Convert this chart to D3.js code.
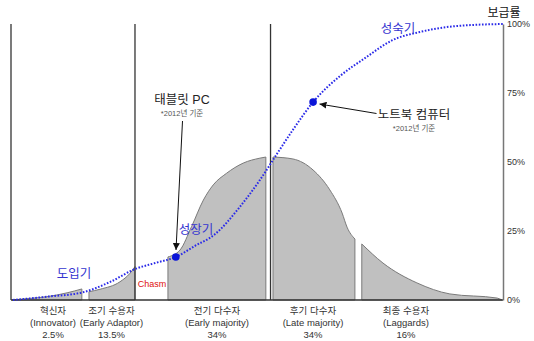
<!DOCTYPE html>
<html>
<head>
<meta charset="utf-8">
<script src="https://cdn.jsdelivr.net/npm/d3@7"></script>
<style>
  html, body { margin: 0; padding: 0; background: #fff; }
  svg { display: block; font-family: "Liberation Sans", "Noto Sans CJK KR", sans-serif; }
</style>
</head>
<body>
<svg id="chart" width="534" height="341"></svg>
<script>
// Adopter groups (Rogers' diffusion of innovations)
const stageNames = ["혁신자", "조기 수용자", "전기 다수자", "후기 다수자", "최종 수용자"];
const stageNamesEn = ["(Innovator)", "(Early Adaptor)", "(Early majority)", "(Late majority)", "(Laggards)"];
const stageShares = ["2.5%", "13.5%", "34%", "34%", "16%"];

// Bell-curve outline of each adopter group: x = time (0-100), y = relative adopters
const innovatorsX = [0.2, 4, 7.3, 11.4, 14.4];
const innovatorsY = [0, 0.6, 1.2, 2.6, 4.0];
const earlyAdoptersX = [15.85, 18.1, 22.15, 24.2, 25.2];
const earlyAdoptersY = [3.0, 3.9, 6.6, 9.7, 12.1];
const earlyMajorityX = [31.9, 34.35, 36.7, 39.1, 41.1, 43.8, 47.2, 50.6, 51.8];
const earlyMajorityY = [15.6, 18.1, 26.6, 36.2, 41.7, 45.9, 49.6, 51.4, 51.8];
const lateMajorityX = [53.25, 57.3, 61.4, 64.8, 67.3, 68.3, 69.9];
const lateMajorityY = [51.8, 51.1, 47.1, 39.9, 31.5, 26.4, 22.1];
const laggardsX = [71.3, 75.6, 82.5, 89.2, 98.8, 99.8];
const laggardsY = [20.3, 13.4, 6.2, 2.2, 0.7, 0];

// Cumulative adoption (보급률, %)
const adoptionX = [0.4, 7.9, 14.4, 20.1, 25.2, 29.3, 33.5, 37.4, 41.5, 46.5, 50.6, 54.3, 57.7, 61.4, 66.9, 72.0, 77.6, 83.1, 88.6, 93.3, 100];
const adoptionY = [0, 1.3, 2.7, 6.5, 11.2, 13.4, 15.6, 19.6, 23.9, 33.7, 43.5, 53.6, 62.7, 71.7, 81.2, 87.7, 94.2, 97.1, 98.9, 99.6, 100];

// Devices placed on the adoption curve (as of 2012)
const deviceNames = ["태블릿 PC", "노트북 컴퓨터"];
const deviceX = [33.5, 61.4];
const deviceY = [15.6, 71.7];

// Phase labels and boundaries
const phaseNames = ["도입기", "성장기", "성숙기"];
const phaseBoundaries = [0, 25.2, 52.75];
const yTicks = [0, 25, 50, 75, 100];

const svg = d3.select("#chart");
const x = d3.scaleLinear().domain([0, 100]).range([11, 503]);
const y = d3.scaleLinear().domain([0, 100]).range([300, 24]);

// Gray bell-curve segments
const segments = [
  [innovatorsX, innovatorsY],
  [earlyAdoptersX, earlyAdoptersY],
  [earlyMajorityX, earlyMajorityY],
  [lateMajorityX, lateMajorityY],
  [laggardsX, laggardsY]
].map(([xs, ys]) => xs.map((v, i) => [v, ys[i]]));

const area = d3.area()
  .x(d => x(d[0]))
  .y0(y(0))
  .y1(d => y(d[1]))
  .curve(d3.curveMonotoneX);

svg.append("g").selectAll("path")
  .data(segments)
  .join("path")
  .attr("d", area)
  .attr("fill", "#c0c0c0")
  .attr("stroke", "#7a7a7a")
  .attr("stroke-width", 1);

// Phase boundary lines
svg.append("g").selectAll("line")
  .data(phaseBoundaries)
  .join("line")
  .attr("x1", d => x(d)).attr("x2", d => x(d))
  .attr("y1", y(100)).attr("y2", y(0))
  .attr("stroke", "#333")
  .attr("stroke-width", 1.3);

// Baseline
svg.append("line")
  .attr("x1", x(0)).attr("x2", x(100))
  .attr("y1", y(0)).attr("y2", y(0))
  .attr("stroke", "#333").attr("stroke-width", 1.3);

// Right axis (보급률)
const axis = svg.append("g")
  .attr("transform", `translate(${x(100)},0)`)
  .call(d3.axisRight(y).tickValues(yTicks).tickFormat(d => d + "%").tickSize(0).tickPadding(4));
axis.select(".domain").attr("stroke", "#777").attr("stroke-width", 1.5);
axis.selectAll("text")
  .attr("font-size", 9)
  .attr("fill", "#333")
  .attr("font-family", "Liberation Sans, sans-serif");

svg.append("text")
  .attr("x", x(100) + 1).attr("y", 17)
  .attr("text-anchor", "middle")
  .attr("font-size", 12).attr("fill", "#111")
  .text("보급률");

// Adoption curve
const line = d3.line()
  .x(d => x(d[0]))
  .y(d => y(d[1]))
  .curve(d3.curveMonotoneX);

svg.append("path")
  .datum(adoptionX.map((v, i) => [v, adoptionY[i]]))
  .attr("d", line)
  .attr("fill", "none")
  .attr("stroke", "#2a2ae8")
  .attr("stroke-width", 2)
  .attr("stroke-dasharray", "1.6,1.6");

// Arrow marker
svg.append("defs").append("marker")
  .attr("id", "arrow")
  .attr("viewBox", "0 0 10 10")
  .attr("refX", 10).attr("refY", 5)
  .attr("markerWidth", 7).attr("markerHeight", 7)
  .attr("markerUnits", "userSpaceOnUse")
  .attr("orient", "auto")
  .append("path")
  .attr("d", "M0,0 L10,5 L0,10 Z")
  .attr("fill", "#111");

// Device annotations: label anchor and arrow start
const deviceLabel = [
  { tx: 182, ty: 104, sx: 182.5, sy: 121, ex: 176, ey: 250 },
  { tx: 414, ty: 119, sx: 376.5, sy: 113.5, ex: 319.5, ey: 104 }
];

svg.append("g").selectAll("line")
  .data(deviceLabel)
  .join("line")
  .attr("x1", d => d.sx).attr("y1", d => d.sy)
  .attr("x2", d => d.ex).attr("y2", d => d.ey)
  .attr("stroke", "#111").attr("stroke-width", 1)
  .attr("marker-end", "url(#arrow)");

svg.append("g").selectAll("circle")
  .data(deviceX.map((v, i) => [v, deviceY[i]]))
  .join("circle")
  .attr("cx", d => x(d[0])).attr("cy", d => y(d[1]))
  .attr("r", 3.8)
  .attr("fill", "#0a14d8");

const devG = svg.append("g").selectAll("g")
  .data(deviceNames)
  .join("g")
  .attr("transform", (d, i) => `translate(${deviceLabel[i].tx},${deviceLabel[i].ty})`);
devG.append("text")
  .attr("text-anchor", "middle")
  .attr("font-size", 12.5).attr("fill", "#222")
  .text(d => d);
devG.append("text")
  .attr("y", 12)
  .attr("text-anchor", "middle")
  .attr("font-size", 7.5).attr("fill", "#555")
  .text("*2012년 기준");

// Phase names along the curve
const phasePos = [[74, 278], [196, 234], [398, 33]];
svg.append("g").selectAll("text")
  .data(phaseNames)
  .join("text")
  .attr("x", (d, i) => phasePos[i][0])
  .attr("y", (d, i) => phasePos[i][1])
  .attr("text-anchor", "middle")
  .attr("font-size", 12.5)
  .attr("fill", "#3535d0")
  .text(d => d);

svg.append("text")
  .attr("x", 152).attr("y", 287)
  .attr("text-anchor", "middle")
  .attr("font-size", 9).attr("fill", "#e01010")
  .text("Chasm");

// Adopter group labels under the baseline
const labelCenters = [53, 111.5, 217, 313, 406];
const lab = svg.append("g").selectAll("g")
  .data(stageNames)
  .join("g")
  .attr("transform", (d, i) => `translate(${labelCenters[i]},0)`)
  .attr("text-anchor", "middle")
  .attr("font-size", 9.5)
  .attr("fill", "#333");
lab.append("text").attr("y", 314).text(d => d);
lab.append("text").attr("y", 326).text((d, i) => stageNamesEn[i]);
lab.append("text").attr("y", 338).text((d, i) => stageShares[i]);
</script>
</body>
</html>
